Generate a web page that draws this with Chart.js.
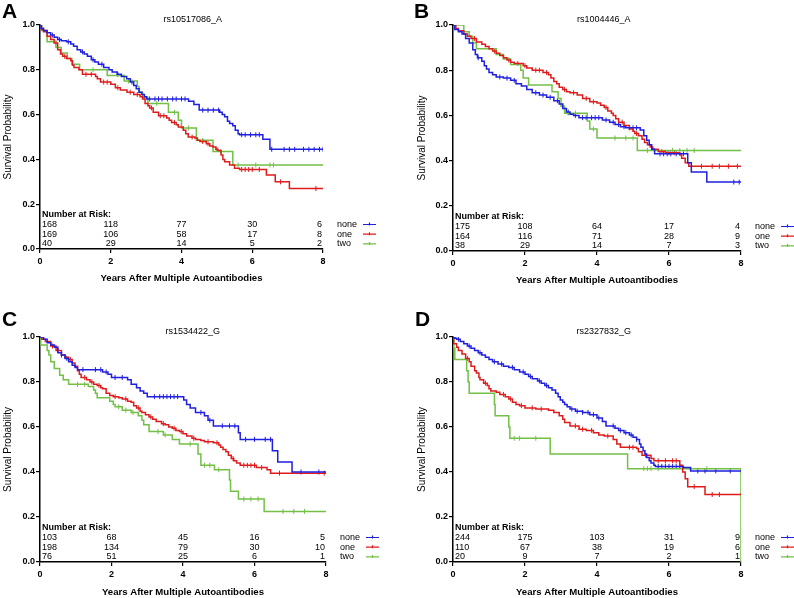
<!DOCTYPE html>
<html>
<head>
<meta charset="utf-8">
<script src="https://cdn.jsdelivr.net/npm/chart.js@4"></script>
<style>
body{margin:0;background:#fff;}
#wrap{position:relative;width:794px;height:598px;overflow:hidden;}
canvas{position:absolute;}
</style>
</head>
<body>
<div id="wrap">
<canvas id="cA" width="397" height="299" style="left:0;top:0"></canvas>
<canvas id="cB" width="397" height="299" style="left:397px;top:0"></canvas>
<canvas id="cC" width="397" height="299" style="left:0;top:299px"></canvas>
<canvas id="cD" width="397" height="299" style="left:397px;top:299px"></canvas>
</div>
<script>
// groups and axis ticks
const groups = ['none', 'one', 'two'];
const xTicks = [0, 2, 4, 6, 8];
const colors = ['#1f1fe0', '#e01b1b', '#72c045'];

// panel A  rs10517086_A
const aNone = [[0,1],[0.03,0.985],[0.1,0.975],[0.2,0.965],[0.3,0.955],[0.4,0.945],[0.5,0.935],[0.6,0.93],[0.75,0.925],[0.87,0.915],[0.95,0.905],[1.05,0.89],[1.15,0.88],[1.25,0.87],[1.34,0.86],[1.45,0.845],[1.55,0.835],[1.65,0.825],[1.8,0.81],[1.95,0.8],[2.04,0.79],[2.18,0.78],[2.3,0.77],[2.45,0.76],[2.55,0.745],[2.65,0.73],[2.72,0.715],[2.8,0.7],[2.88,0.69],[2.95,0.68],[3.02,0.67],[4.2,0.66],[4.35,0.645],[4.5,0.62],[5.08,0.61],[5.15,0.6],[5.22,0.59],[5.3,0.57],[5.36,0.56],[5.45,0.55],[5.52,0.53],[5.6,0.515],[5.64,0.51],[6.3,0.49],[6.5,0.445],[8,0.445]];
const aOne = [[0,1],[0.04,0.98],[0.1,0.97],[0.2,0.95],[0.3,0.935],[0.4,0.92],[0.5,0.89],[0.58,0.87],[0.64,0.86],[0.75,0.85],[0.87,0.84],[0.92,0.82],[0.96,0.81],[1.1,0.8],[1.2,0.78],[1.57,0.77],[1.62,0.76],[1.71,0.745],[2.0,0.735],[2.13,0.72],[2.27,0.71],[2.46,0.7],[2.65,0.69],[2.83,0.68],[2.9,0.67],[2.97,0.65],[3.05,0.64],[3.1,0.63],[3.2,0.61],[3.35,0.595],[3.58,0.585],[3.65,0.575],[3.72,0.565],[3.85,0.555],[3.91,0.545],[4.05,0.53],[4.12,0.515],[4.19,0.5],[4.38,0.495],[4.45,0.485],[4.52,0.48],[4.7,0.47],[4.8,0.46],[4.89,0.455],[4.97,0.445],[5.03,0.44],[5.12,0.42],[5.17,0.4],[5.22,0.39],[5.36,0.375],[5.5,0.36],[5.64,0.355],[6.4,0.33],[6.65,0.3],[7.05,0.27],[8,0.27]];
const aTwo = [[0,1],[0.05,0.975],[0.2,0.925],[0.45,0.9],[0.6,0.875],[0.77,0.85],[0.9,0.825],[1.12,0.8],[1.9,0.775],[2.38,0.75],[2.75,0.725],[2.8,0.7],[2.9,0.675],[3.05,0.65],[3.63,0.61],[3.91,0.575],[4.0,0.54],[4.42,0.485],[4.89,0.435],[5.45,0.375],[8,0.375]];
const aNoneCens = [0.35,0.55,0.8,1.2,1.5,1.75,2.2,2.6,3.1,3.25,3.35,3.45,3.6,3.75,3.85,4.0,4.1,4.6,4.75,4.9,5.05,5.7,5.8,5.95,6.1,6.2,6.55,6.9,7.05,7.2,7.45,7.6,7.75,7.9,8.0];
const aOneCens = [0.45,0.7,1.3,1.45,1.8,1.9,2.2,2.55,2.75,3.15,3.4,3.5,3.8,4.3,4.6,4.75,5.0,5.7,5.8,5.9,6.0,6.2,6.8,7.8];
const aTwoCens = [1.5,2.5,3.3,3.8,4.2,4.6,5.1,5.6,6.1,6.5,6.6];
const aRisk = [[168,118,77,30,6],[169,106,58,17,8],[40,29,14,5,2]];

// panel B  rs1004446_A
const bNone = [[0,1],[0.05,0.98],[0.15,0.97],[0.25,0.96],[0.35,0.94],[0.45,0.92],[0.55,0.89],[0.62,0.87],[0.68,0.855],[0.8,0.84],[0.87,0.82],[0.93,0.805],[1.0,0.79],[1.1,0.78],[1.2,0.77],[1.4,0.765],[1.6,0.755],[1.75,0.74],[1.9,0.73],[2.05,0.715],[2.2,0.7],[2.4,0.69],[2.6,0.68],[2.8,0.665],[2.95,0.65],[3.05,0.63],[3.15,0.615],[3.25,0.605],[3.35,0.6],[3.5,0.59],[4.15,0.58],[4.35,0.57],[4.5,0.56],[4.65,0.55],[4.8,0.545],[5.2,0.535],[5.3,0.51],[5.38,0.49],[5.45,0.47],[5.52,0.45],[5.6,0.43],[6.52,0.39],[6.62,0.35],[7.05,0.305],[8,0.305]];
const bOne = [[0,1],[0.08,0.985],[0.15,0.975],[0.3,0.96],[0.4,0.95],[0.5,0.94],[0.65,0.925],[0.8,0.915],[0.9,0.905],[1.0,0.895],[1.1,0.885],[1.2,0.875],[1.3,0.865],[1.4,0.855],[1.5,0.845],[1.6,0.835],[1.7,0.83],[1.95,0.82],[2.05,0.81],[2.2,0.8],[2.5,0.79],[2.65,0.78],[2.72,0.765],[2.8,0.75],[2.88,0.74],[2.95,0.725],[3.05,0.715],[3.15,0.705],[3.25,0.7],[3.45,0.69],[3.6,0.675],[3.8,0.66],[4.0,0.655],[4.1,0.645],[4.2,0.635],[4.3,0.62],[4.4,0.61],[4.45,0.6],[4.52,0.585],[4.6,0.57],[4.75,0.555],[4.9,0.54],[5.0,0.53],[5.05,0.52],[5.15,0.51],[5.25,0.495],[5.32,0.48],[5.4,0.47],[5.48,0.46],[5.55,0.45],[5.7,0.44],[5.9,0.435],[6.3,0.425],[6.35,0.41],[6.45,0.39],[6.55,0.375],[8,0.375]];
const bTwo = [[0,1],[0.28,1],[0.3,0.97],[0.45,0.95],[0.55,0.92],[0.65,0.895],[1.2,0.87],[1.4,0.85],[1.6,0.825],[1.88,0.8],[1.95,0.765],[2.1,0.735],[2.75,0.705],[2.92,0.675],[3.0,0.64],[3.1,0.61],[3.73,0.575],[3.8,0.54],[4.0,0.5],[5.12,0.445],[8,0.445]];
const bNoneCens = [0.7,1.3,1.5,1.7,2.3,2.5,2.7,2.9,3.2,3.4,3.6,3.7,3.85,3.95,4.05,4.25,4.45,4.6,4.75,4.9,5.0,5.1,5.75,5.85,5.95,6.05,6.2,6.4,7.8,7.95];
const bOneCens = [0.6,1.15,1.55,1.8,2.0,2.3,2.4,2.6,3.1,3.35,3.7,3.9,4.25,4.7,5.1,5.8,6.0,6.15,6.9,7.2,7.4,7.65,7.9];
const bTwoCens = [3.2,3.4,3.9,4.5,4.8,5.0,5.4,6.1,6.3,6.5,6.7];
const bRisk = [[175,108,64,17,4],[164,116,71,28,9],[38,29,14,7,3]];

// panel C  rs1534422_G
const cNone = [[0,1],[0.1,0.99],[0.2,0.975],[0.3,0.965],[0.4,0.955],[0.5,0.93],[0.6,0.92],[0.7,0.905],[0.8,0.89],[0.9,0.875],[0.98,0.865],[1.05,0.855],[1.75,0.845],[1.9,0.835],[2.0,0.82],[2.45,0.81],[2.55,0.79],[2.7,0.775],[2.8,0.76],[2.9,0.75],[3.0,0.735],[4.02,0.72],[4.1,0.7],[4.2,0.685],[4.35,0.665],[4.6,0.65],[4.7,0.63],[4.85,0.605],[5.55,0.575],[5.6,0.545],[6.5,0.495],[6.65,0.445],[7.05,0.4],[8,0.4]];
const cOne = [[0,1],[0.05,0.99],[0.15,0.98],[0.3,0.96],[0.45,0.94],[0.6,0.92],[0.7,0.91],[0.8,0.9],[0.9,0.885],[0.98,0.87],[1.05,0.85],[1.1,0.835],[1.15,0.82],[1.3,0.81],[1.4,0.8],[1.5,0.79],[1.6,0.785],[1.7,0.775],[1.75,0.77],[1.85,0.75],[1.95,0.74],[2.05,0.735],[2.2,0.73],[2.3,0.725],[2.45,0.715],[2.55,0.71],[2.62,0.695],[2.7,0.685],[2.8,0.67],[2.85,0.665],[2.95,0.655],[3.05,0.645],[3.15,0.635],[3.25,0.625],[3.4,0.615],[3.5,0.61],[3.6,0.6],[3.7,0.595],[3.8,0.585],[3.9,0.58],[4.0,0.57],[4.1,0.56],[4.25,0.55],[4.35,0.545],[4.5,0.54],[4.6,0.535],[4.85,0.53],[5.0,0.52],[5.05,0.51],[5.12,0.5],[5.2,0.49],[5.27,0.475],[5.35,0.46],[5.42,0.45],[5.5,0.44],[5.6,0.43],[6.05,0.42],[6.35,0.41],[6.45,0.395],[8,0.395]];
const cTwo = [[0,1],[0.02,0.965],[0.2,0.94],[0.25,0.92],[0.3,0.89],[0.4,0.86],[0.55,0.83],[0.65,0.81],[0.8,0.79],[1.35,0.78],[1.5,0.765],[1.55,0.75],[1.6,0.73],[1.95,0.715],[2.05,0.7],[2.1,0.69],[2.3,0.675],[2.55,0.665],[2.75,0.65],[2.85,0.63],[2.9,0.61],[3.05,0.58],[3.45,0.565],[3.7,0.545],[3.9,0.525],[4.42,0.48],[4.5,0.43],[4.88,0.41],[5.3,0.365],[5.33,0.315],[5.55,0.28],[6.27,0.225],[8,0.225]];
const cNoneCens = [0.6,0.75,1.2,1.55,1.7,1.85,2.1,2.3,3.2,3.35,3.45,3.55,3.65,3.75,3.85,4.5,4.75,5.1,5.3,5.45,5.75,6.0,6.3,6.45,7.3,7.8];
const cOneCens = [0.35,0.5,0.85,1.25,1.45,1.65,2.1,2.4,2.75,3.1,3.45,3.75,3.95,4.3,4.7,4.95,5.4,5.7,5.8,5.9,6.0,6.2,6.7,7.95];
const cTwoCens = [1.05,1.25,2.2,2.4,2.6,3.3,3.5,4.2,4.6,4.75,5.0,5.7,5.9,6.1,6.8,7.1,7.4];
const cRisk = [[103,68,45,16,5],[198,134,79,30,10],[76,51,25,6,1]];

// panel D  rs2327832_G
const dNone = [[0,1],[0.05,0.995],[0.1,0.99],[0.2,0.98],[0.3,0.97],[0.4,0.96],[0.5,0.95],[0.6,0.94],[0.7,0.93],[0.8,0.92],[0.9,0.91],[1.0,0.9],[1.1,0.89],[1.25,0.88],[1.4,0.87],[1.55,0.865],[1.7,0.855],[1.85,0.845],[2.0,0.835],[2.1,0.825],[2.2,0.815],[2.35,0.805],[2.45,0.795],[2.55,0.785],[2.65,0.775],[2.75,0.765],[2.85,0.75],[2.92,0.735],[2.98,0.72],[3.05,0.71],[3.1,0.7],[3.17,0.69],[3.25,0.68],[3.4,0.67],[3.6,0.665],[3.8,0.655],[4.0,0.64],[4.15,0.625],[4.25,0.605],[4.5,0.595],[4.6,0.585],[4.75,0.575],[4.9,0.565],[5.0,0.555],[5.1,0.545],[5.18,0.525],[5.22,0.51],[5.28,0.495],[5.33,0.48],[5.38,0.465],[5.45,0.45],[5.5,0.44],[5.58,0.43],[5.62,0.425],[6.4,0.42],[6.6,0.405],[8,0.405]];
const dOne = [[0,1],[0.02,0.97],[0.1,0.955],[0.15,0.94],[0.25,0.925],[0.35,0.905],[0.45,0.89],[0.5,0.87],[0.6,0.85],[0.65,0.84],[0.72,0.82],[0.75,0.81],[0.85,0.795],[0.95,0.785],[1.0,0.77],[1.05,0.76],[1.2,0.755],[1.3,0.745],[1.45,0.735],[1.55,0.725],[1.65,0.71],[1.75,0.7],[1.85,0.695],[2.0,0.685],[2.3,0.68],[2.65,0.675],[2.8,0.665],[2.95,0.65],[3.05,0.635],[3.1,0.62],[3.25,0.605],[3.5,0.59],[3.7,0.585],[3.9,0.575],[4.05,0.565],[4.2,0.56],[4.45,0.545],[4.55,0.525],[4.65,0.51],[5.1,0.505],[5.15,0.49],[5.25,0.475],[5.5,0.46],[5.58,0.45],[6.3,0.43],[6.38,0.4],[6.45,0.37],[6.52,0.335],[7.0,0.3],[8,0.3]];
const dTwo = [[0,1],[0.02,0.95],[0.05,0.9],[0.38,0.85],[0.42,0.8],[0.45,0.75],[1.15,0.7],[1.17,0.65],[1.55,0.6],[1.58,0.55],[2.7,0.48],[4.85,0.415],[8,0.415],[8,0]];
const dNoneCens = [0.15,0.45,0.75,1.15,1.35,1.65,1.95,2.15,2.4,2.6,3.3,3.45,3.6,3.75,3.9,4.05,4.45,4.65,4.8,4.95,5.1,5.7,5.8,5.9,6.0,6.1,6.2,6.3,6.8,7.0,7.3,7.7,8.0];
const dOneCens = [0.4,0.9,1.4,1.6,1.9,2.2,2.45,3.4,3.6,3.85,4.3,4.9,5.0,5.35,5.7,5.9,6.1,6.2,6.7,7.2,7.4,8.0];
const dTwoCens = [1.7,1.85,2.3,5.3,5.4,5.5,5.7,7.05];
const dRisk = [[244,175,103,31,9],[110,67,38,19,6],[20,9,7,2,1]];

const FF = '"Liberation Sans", Arial, sans-serif';
Chart.defaults.font.family = FF;
Chart.defaults.color = '#000';

// survival value of a curve at time t (for the censor marks)
function stepAt(curve, t) {
  let v = curve[0][1];
  for (const p of curve) {
    if (p[0] <= t) v = p[1]; else break;
  }
  return v;
}

// letter, title, number-at-risk table and legend
const riskPlugin = {
  id: 'risk',
  afterDraw(chart, args, o) {
    const ctx = chart.ctx, a = chart.chartArea, sx = chart.scales.x;
    ctx.save();
    ctx.fillStyle = '#000';
    ctx.font = 'bold 21px ' + FF;
    ctx.textAlign = 'left';
    ctx.textBaseline = 'alphabetic';
    ctx.fillText(o.letter, o.letterX, o.letterY);

    ctx.font = '9px ' + FF;
    ctx.textAlign = 'center';
    ctx.textBaseline = 'middle';
    ctx.fillText(o.title, o.titleX, o.titleY);

    ctx.font = 'bold 9px ' + FF;
    ctx.textAlign = 'left';
    ctx.fillText('Number at Risk:', a.left + 2, a.bottom - 34);

    ctx.font = '9px ' + FF;
    o.risk.forEach((row, r) => {
      const y = a.bottom - 24.5 + r * 9.7;
      row.forEach((n, i) => {
        const px = sx.getPixelForValue(xTicks[i]);
        if (i === 0) { ctx.textAlign = 'left'; ctx.fillText(n, px + 2, y); }
        else if (i === row.length - 1) { ctx.textAlign = 'right'; ctx.fillText(n, px - 1, y); }
        else { ctx.textAlign = 'center'; ctx.fillText(n, px, y); }
      });
      ctx.textAlign = 'left';
      ctx.fillStyle = '#000';
      ctx.fillText(groups[r], a.right + 14, y);
      ctx.strokeStyle = colors[r];
      ctx.lineWidth = 1.2;
      ctx.beginPath();
      ctx.moveTo(a.right + 40, y);
      ctx.lineTo(a.right + 53, y);
      ctx.moveTo(a.right + 46.5, y - 2);
      ctx.lineTo(a.right + 46.5, y + 1);
      ctx.stroke();
    });
    ctx.restore();
  }
};

function panel(id, lay, curves, cens, risk, title, letter) {
  const datasets = [];
  curves.forEach((c, i) => {
    datasets.push({
      data: c.map(p => ({x: p[0], y: p[1]})),
      showLine: true,
      stepped: true,
      borderColor: colors[i],
      borderWidth: 1.5,
      pointRadius: 0,
      fill: false
    });
  });
  cens.forEach((ts, i) => {
    datasets.push({
      data: ts.map(t => ({x: t, y: stepAt(curves[i], t)})),
      showLine: false,
      pointStyle: 'line',
      rotation: 90,
      pointRadius: 2.5,
      borderColor: colors[i],
      pointBorderColor: colors[i],
      pointBorderWidth: 1
    });
  });

  new Chart(document.getElementById(id), {
    type: 'scatter',
    data: {datasets: datasets},
    options: {
      responsive: false,
      animation: false,
      devicePixelRatio: 1,
      events: [],
      layout: {padding: {left: 0, top: lay.top, right: 397 - lay.right, bottom: 0}},
      plugins: {
        legend: {display: false},
        tooltip: {enabled: false},
        risk: {risk: risk, title: title, letter: letter, letterX: lay.letterX, letterY: lay.letterY, titleX: lay.titleX, titleY: lay.titleY}
      },
      scales: {
        x: {
          type: 'linear', min: 0, max: 8,
          afterBuildTicks: s => { s.ticks = xTicks.map(v => ({value: v})); },
          afterFit: s => { s.height = 299 - lay.bottom; },
          ticks: {font: {size: 9, weight: 'bold'}, color: '#000', padding: 3, maxRotation: 0},
          grid: {drawOnChartArea: false, drawTicks: true, tickLength: 4, color: '#000', lineWidth: 1.2},
          border: {display: true, color: '#000', width: 1.5},
          title: {display: true, text: 'Years After Multiple Autoantibodies', color: '#000',
                  font: {size: 9.6, weight: 'bold'}, padding: {top: 0, bottom: lay.xtPad}}
        },
        y: {
          min: 0, max: 1,
          ticks: {stepSize: 0.2, font: {size: 9, weight: 'bold'}, color: '#000', padding: 1,
                  callback: v => v.toFixed(1)},
          afterFit: s => { s.width = lay.left; },
          grid: {drawOnChartArea: false, drawTicks: true, tickLength: 4, color: '#000', lineWidth: 1.2},
          border: {display: true, color: '#000', width: 1.5},
          title: {display: true, text: 'Survival Probability', color: '#000',
                  font: {size: 10}, padding: {top: lay.ytPad, bottom: 0}}
        }
      }
    },
    plugins: [riskPlugin]
  });
}

panel('cA', {left: 40, top: 25, right: 323, bottom: 249, xtPad: 15, ytPad: 2.5, letterX: 2, letterY: 18, titleX: 192.7, titleY: 19.3},
  [aNone, aOne, aTwo], [aNoneCens, aOneCens, aTwoCens], aRisk, 'rs10517086_A', 'A');
panel('cB', {left: 56, top: 25, right: 344, bottom: 251, xtPad: 13, ytPad: 19, letterX: 17, letterY: 18, titleX: 206.7, titleY: 19.3},
  [bNone, bOne, bTwo], [bNoneCens, bOneCens, bTwoCens], bRisk, 'rs1004446_A', 'B');
panel('cC', {left: 40, top: 38, right: 326, bottom: 263, xtPad: 0, ytPad: 2.5, letterX: 2, letterY: 27, titleX: 192.7, titleY: 32.3},
  [cNone, cOne, cTwo], [cNoneCens, cOneCens, cTwoCens], cRisk, 'rs1534422_G', 'C');
panel('cD', {left: 56, top: 38, right: 344, bottom: 263, xtPad: 0, ytPad: 19, letterX: 18, letterY: 27, titleX: 206.7, titleY: 32.3},
  [dNone, dOne, dTwo], [dNoneCens, dOneCens, dTwoCens], dRisk, 'rs2327832_G', 'D');
</script>
</body>
</html>
